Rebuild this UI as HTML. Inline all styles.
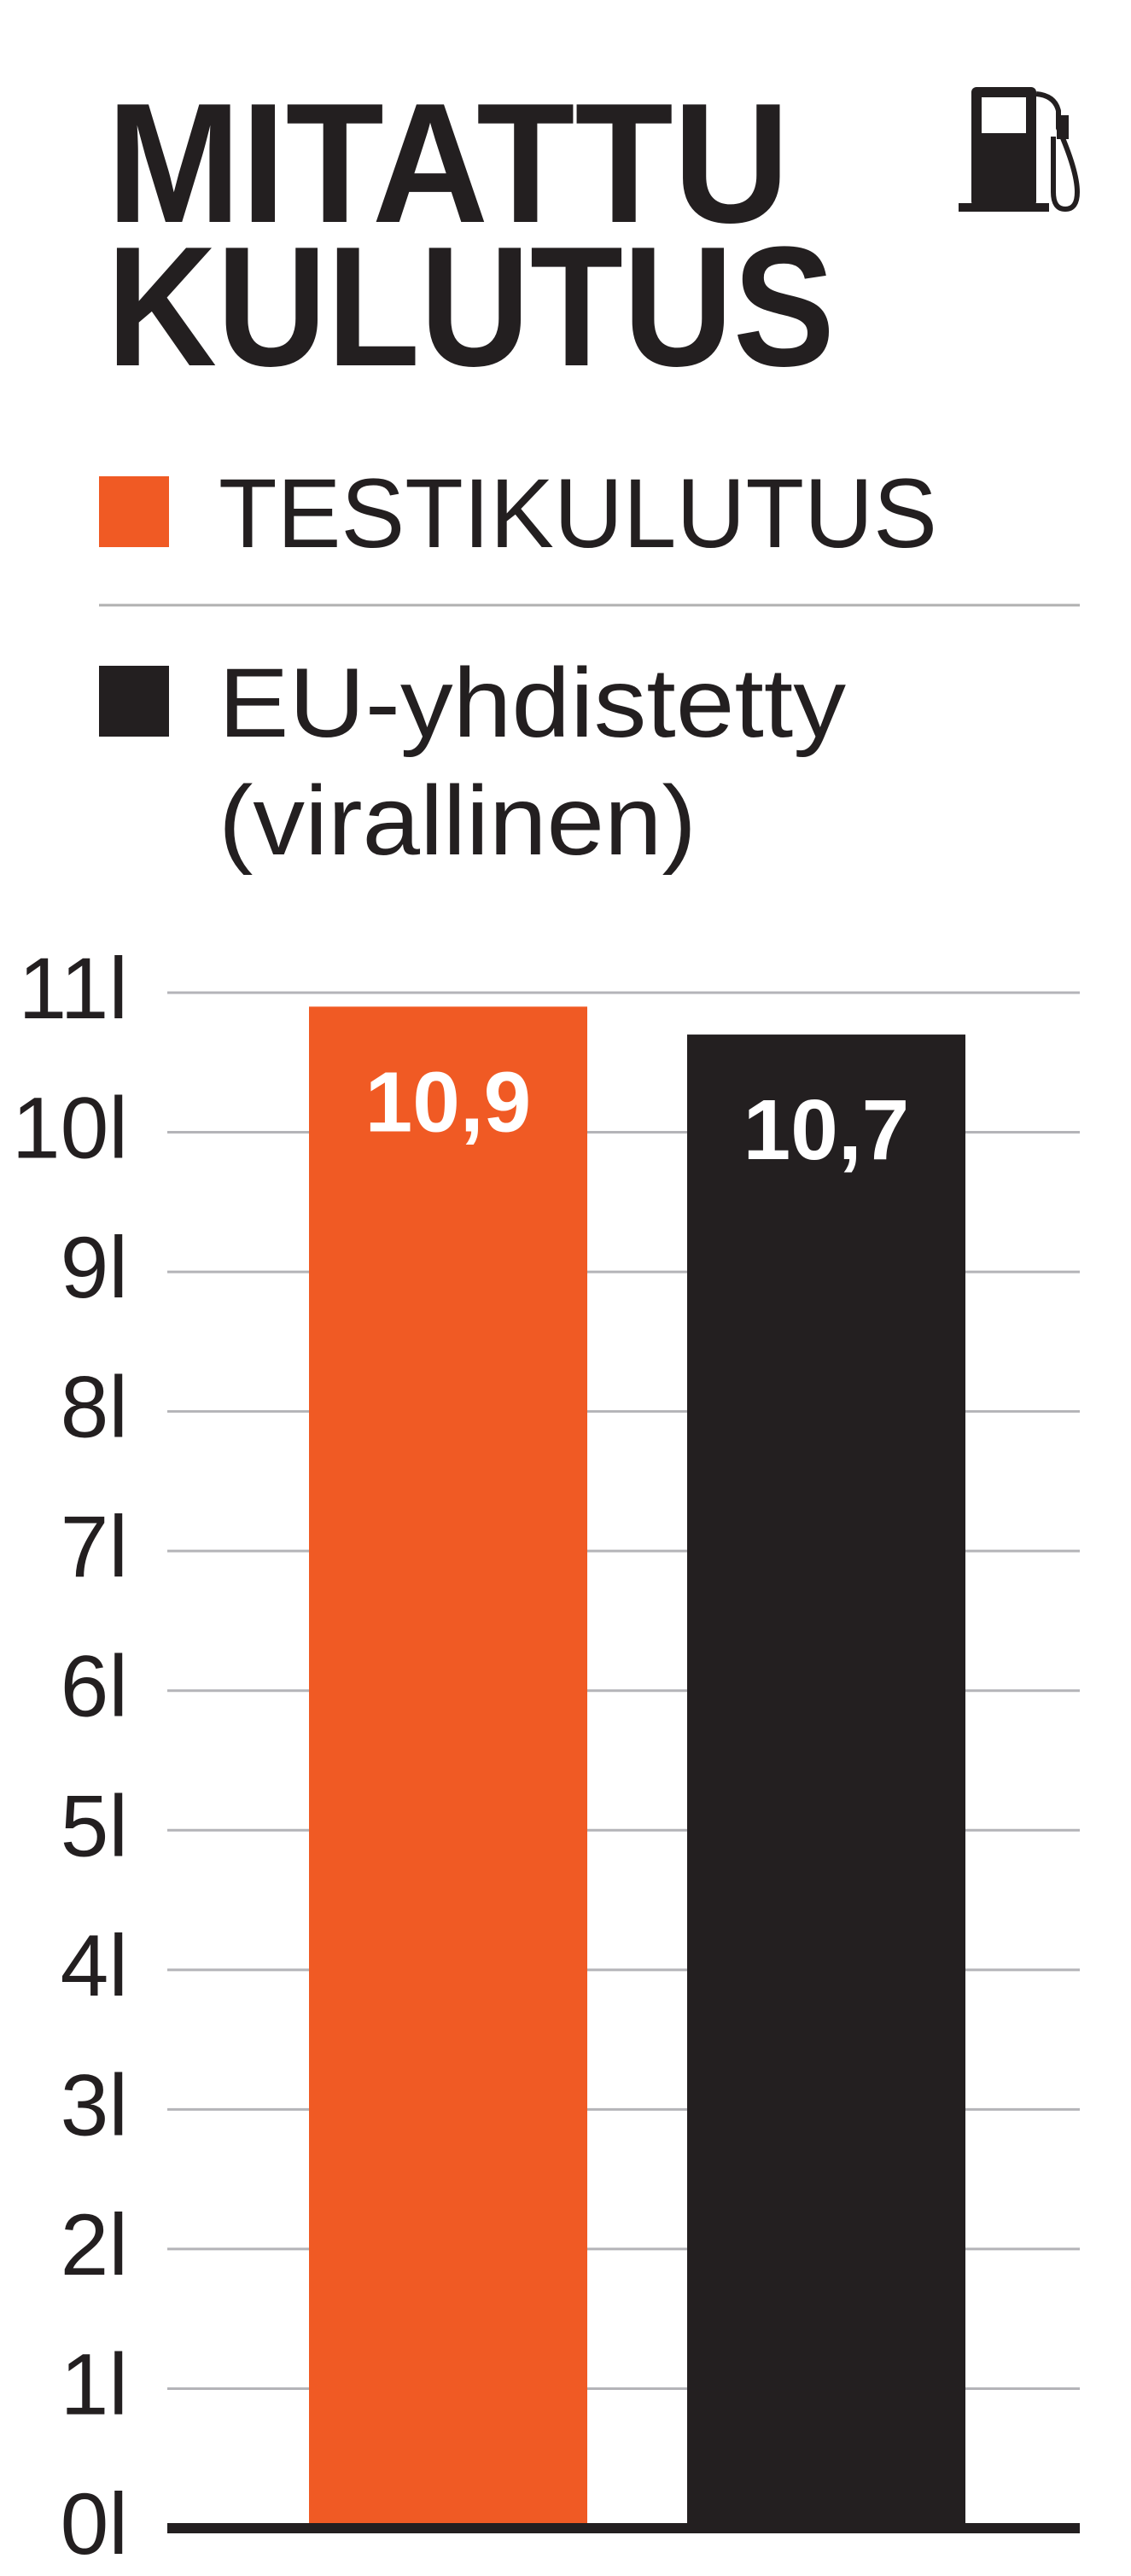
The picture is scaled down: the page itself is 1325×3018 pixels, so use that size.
<!DOCTYPE html>
<html><head><meta charset="utf-8"><style>
html,body{margin:0;padding:0;background:#fff;}
svg{display:block;font-family:"Liberation Sans",sans-serif;}
</style></head><body>
<svg id="chart" width="1325" height="3018" viewBox="0 0 1325 3018">
<text x="125" y="260" font-size="200" font-weight="bold" fill="#231f20" textLength="800" lengthAdjust="spacingAndGlyphs">MITATTU</text>
<text x="125" y="428" font-size="200" font-weight="bold" fill="#231f20" textLength="853" lengthAdjust="spacingAndGlyphs">KULUTUS</text>
<g fill="#231f20">
<rect x="1138" y="102" width="76" height="140" rx="6"/>
<rect x="1150" y="114" width="52" height="42" fill="#fff"/>
<rect x="1123" y="238" width="106" height="10"/>
<path d="M1214 110 Q1236 112 1240 130 L1240 150 Q1262 200 1262 225 Q1262 245 1248 245 Q1234 245 1234 225 L1234 160" fill="none" stroke="#231f20" stroke-width="6"/>
<rect x="1238" y="135" width="14" height="28"/>
</g>
<rect x="116" y="558" width="82" height="83" fill="#f05a24"/>
<text x="256" y="641" font-size="115" fill="#231f20" textLength="842" lengthAdjust="spacingAndGlyphs">TESTIKULUTUS</text>
<line x1="116" y1="709" x2="1265" y2="709" stroke="#b0b0b0" stroke-width="3"/>
<rect x="116" y="780" width="82" height="83" fill="#231f20"/>
<text x="256" y="863" font-size="115" fill="#231f20" textLength="735" lengthAdjust="spacingAndGlyphs">EU-yhdistetty</text>
<text x="256" y="1001" font-size="115" fill="#231f20" textLength="560" lengthAdjust="spacingAndGlyphs">(virallinen)</text>
<g id="grid"></g>
<g id="bars"></g>
<rect x="196" y="2956" width="1069" height="12" fill="#231f20"/>
</svg>
<script>
const ticks = [0,1,2,3,4,5,6,7,8,9,10,11];
const tickLabels = ["0l","1l","2l","3l","4l","5l","6l","7l","8l","9l","10l","11l"];
const categories = ["TESTIKULUTUS","EU-yhdistetty"];
const values = [10.9, 10.7];
const valueLabels = ["10,9","10,7"];
const colors = ["#f05a24","#231f20"];
const NS="http://www.w3.org/2000/svg";
const y0=2962, pxPer=(2962-1163)/11;
function yScale(v){return y0-v*pxPer;}
function xBand(i){return 362+i*443;}
const bw=326;
const grid=document.getElementById('grid');
ticks.forEach((t,i)=>{
  const y=yScale(t);
  if(t>0){
    const l=document.createElementNS(NS,'line');
    l.setAttribute('x1',196);l.setAttribute('x2',1265);l.setAttribute('y1',y);l.setAttribute('y2',y);
    l.setAttribute('stroke','#b4b4b8');l.setAttribute('stroke-width','3');
    
    
    grid.appendChild(l);
  }
  const tx=document.createElementNS(NS,'text');
  tx.setAttribute('x',150);tx.setAttribute('y',y+30);
  tx.setAttribute('text-anchor','end');tx.setAttribute('font-size','102');tx.setAttribute('fill','#231f20');
  tx.textContent=tickLabels[i];
  
  
  grid.appendChild(tx);
});
const bars=document.getElementById('bars');
values.forEach((v,i)=>{
  const r=document.createElementNS(NS,'rect');
  r.setAttribute('x',xBand(i));r.setAttribute('y',yScale(v));
  r.setAttribute('width',bw);r.setAttribute('height',y0-yScale(v));
  r.setAttribute('fill',colors[i]);
  
  
  bars.appendChild(r);
  const t=document.createElementNS(NS,'text');
  t.setAttribute('x',xBand(i)+bw/2);t.setAttribute('y',yScale(v)+146);
  t.setAttribute('text-anchor','middle');t.setAttribute('font-size','100');t.setAttribute('font-weight','bold');
  t.setAttribute('fill','#fff');
  t.textContent=valueLabels[i];
  
  
  bars.appendChild(t);
});
</script>
</body></html>
